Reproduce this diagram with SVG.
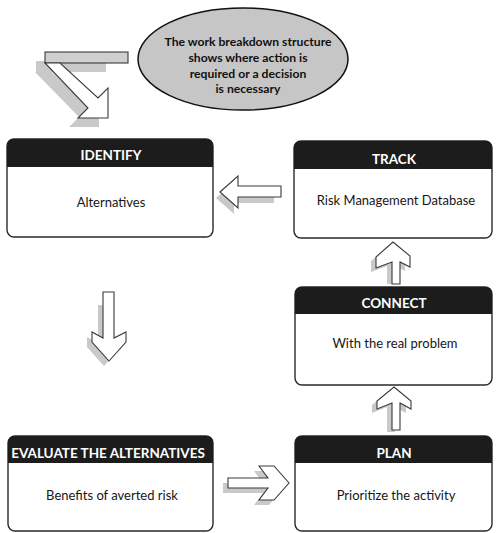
<svg xmlns="http://www.w3.org/2000/svg" width="498" height="533" viewBox="0 0 498 533">
  <style>
    .box { fill: #ffffff; stroke: #2a2a2a; stroke-width: 1.4; }
    .head { fill: #1c1c1c; }
    .title { font-family: Lato, "Open Sans", sans-serif; font-weight: bold; font-size: 13.5px; fill: #ffffff; text-anchor: middle; }
    .body { font-family: Lato, "Open Sans", sans-serif; font-size: 13px; fill: #161616; text-anchor: middle; }
    .note { font-family: Lato, "Open Sans", sans-serif; font-weight: bold; font-size: 12.2px; fill: #111111; text-anchor: middle; }
    .arrow { fill: #ffffff; stroke: #3a3a3a; stroke-width: 1.1; stroke-linejoin: miter; }
    .shadow { fill: #c9c9c9; }
    .bar { fill: #cfcfcf; stroke: #3a3a3a; stroke-width: 1.1; }
  </style>

  <!-- note bubble -->
  <g id="note">
    <ellipse cx="243" cy="59" rx="105" ry="51" fill="#c6c6c6" stroke="#111111" stroke-width="1.5"/>
    <text class="note" x="248" y="46">The work breakdown structure</text>
    <text class="note" x="248" y="62">shows where action is</text>
    <text class="note" x="248" y="78">required or a decision</text>
    <text class="note" x="248" y="93">is necessary</text>
  </g>

  <!-- IDENTIFY -->
  <g id="identify">
    <rect class="box" x="7" y="139" width="206" height="98" rx="7"/>
    <path class="head" d="M7,167 V146 Q7,139 14,139 H206 Q213,139 213,146 V167 Z"/>
    <text class="title" x="111" y="160">IDENTIFY</text>
    <text class="body" x="111" y="207">Alternatives</text>
  </g>

  <!-- TRACK -->
  <g id="track">
    <rect class="box" x="294" y="141" width="198" height="97" rx="7"/>
    <path class="head" d="M294,169 V148 Q294,141 301,141 H485 Q492,141 492,148 V169 Z"/>
    <text class="title" x="394" y="164">TRACK</text>
    <text class="body" x="396" y="205">Risk Management Database</text>
  </g>

  <!-- CONNECT -->
  <g id="connect">
    <rect class="box" x="295" y="287" width="197" height="98" rx="7"/>
    <path class="head" d="M295,314 V294 Q295,287 302,287 H485 Q492,287 492,294 V314 Z"/>
    <text class="title" x="394" y="308">CONNECT</text>
    <text class="body" x="395" y="348">With the real problem</text>
  </g>

  <!-- EVALUATE THE ALTERNATIVES -->
  <g id="evaluate">
    <rect class="box" x="8" y="436" width="205" height="95" rx="7"/>
    <path class="head" d="M8,463 V443 Q8,436 15,436 H206 Q213,436 213,443 V463 Z"/>
    <text class="title" x="108" y="458">EVALUATE THE ALTERNATIVES</text>
    <text class="body" x="112" y="500">Benefits of averted risk</text>
  </g>

  <!-- PLAN -->
  <g id="plan">
    <rect class="box" x="295" y="436" width="197" height="95" rx="7"/>
    <path class="head" d="M295,463 V443 Q295,436 302,436 H485 Q492,436 492,443 V463 Z"/>
    <text class="title" x="394" y="458">PLAN</text>
    <text class="body" x="396" y="500">Prioritize the activity</text>
  </g>

  <!-- block arrows between the steps -->
  <g id="connectors">
    <!-- from the note down into IDENTIFY -->
    <g>
      <g class="shadow" transform="translate(-9,9)">
        <rect x="45" y="52" width="70" height="11"/>
        <polygon points="44,63 61,63 98,98 108,88 108,118 78,118 88,108"/>
      </g>
      <rect class="bar" x="45" y="52" width="83" height="11"/>
      <polygon class="arrow" points="45,63 60,63 98,98 108,88 108,118 78,118 88,108"/>
    </g>
    <!-- TRACK to IDENTIFY -->
    <g>
      <polygon class="shadow" transform="translate(-4,6)" points="220,192 238,176 238,186 278,186 278,197 238,197 238,208"/>
      <polygon class="arrow" points="220,192 238,176 238,186 281,186 281,197 238,197 238,208"/>
    </g>
    <!-- IDENTIFY down to EVALUATE -->
    <g>
      <polygon class="shadow" transform="translate(-5,5)" points="103,300 114,300 114,338 126,332 126,342 109,361 92,342 92,332 103,338"/>
      <polygon class="arrow" points="103,292 114,292 114,338 126,332 126,342 109,361 92,342 92,332 103,338"/>
    </g>
    <!-- EVALUATE to PLAN -->
    <g>
      <polygon class="shadow" transform="translate(-5,5)" points="228,478 268,478 259,466 274,466 289,483 274,500 259,500 268,488 228,488"/>
      <polygon class="arrow" points="228,478 268,478 259,466 274,466 289,483 274,500 259,500 268,488 228,488"/>
    </g>
    <!-- PLAN up to CONNECT -->
    <g>
      <polygon class="shadow" transform="translate(-5,4)" points="394,387 411,401 411,409 400,403 400,428 392,428 392,403 377,409 377,401"/>
      <polygon class="arrow" points="394,387 411,401 411,409 400,403 400,430 392,430 392,403 377,409 377,401"/>
    </g>
    <!-- CONNECT up to TRACK -->
    <g>
      <polygon class="shadow" transform="translate(-5,4)" points="393,242 410,256 410,267 400,262 400,280 392,280 392,262 376,268 376,257"/>
      <polygon class="arrow" points="393,242 410,256 410,267 400,262 400,284 392,284 392,262 376,268 376,257"/>
    </g>
  </g>
</svg>
